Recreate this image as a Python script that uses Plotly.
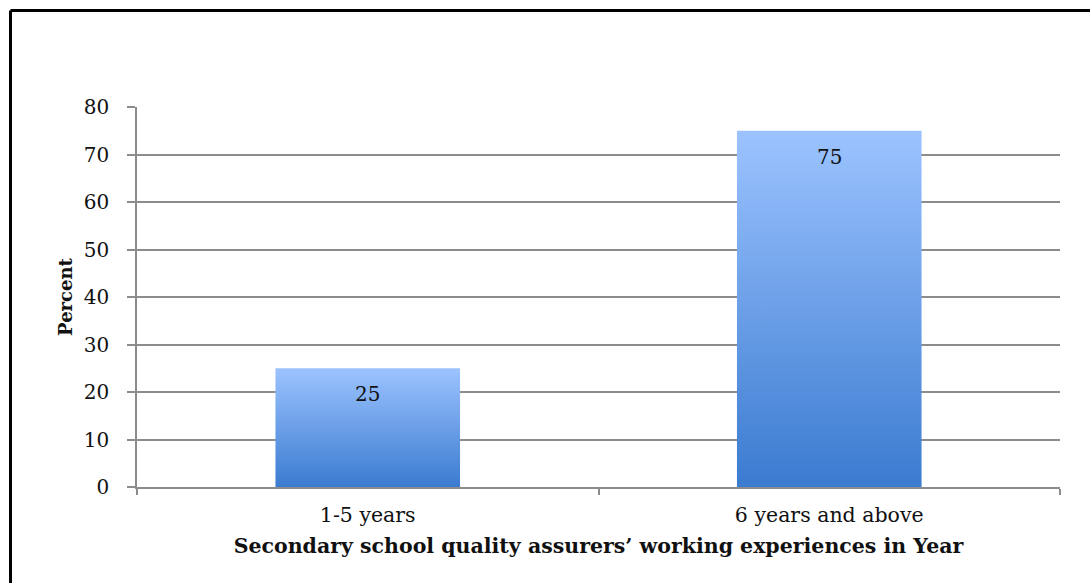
import plotly.graph_objects as go

categories = ["1-5 years", "6 years and above"]
percent = [25, 75]
y_ticks = [0, 10, 20, 30, 40, 50, 60, 70, 80]

x_title = "Secondary school quality assurers’ working experiences in Year"
y_title = "Percent"

BAR_HALF = 0.2
FONT = "DejaVu Serif"
GRID = "#8c8c8c"

fig = go.Figure()

for i, (cat, v) in enumerate(zip(categories, percent)):
    xs = [i - BAR_HALF, i + BAR_HALF, i + BAR_HALF, i - BAR_HALF, i - BAR_HALF]
    ys = [0, 0, v, v, 0]
    fig.add_trace(go.Scatter(
        x=xs, y=ys, mode="lines", fill="toself",
        line=dict(width=0, color="rgba(0,0,0,0)"),
        fillgradient=dict(type="vertical",
                          colorscale=[[0, "#3b7bd0"], [1, "#9cc3ff"]]),
        hoverinfo="skip", showlegend=False, name=cat,
    ))
    fig.add_annotation(x=i, y=v, text=str(v), showarrow=False,
                       yanchor="top", yshift=-12,
                       font=dict(family=FONT, size=20, color="#111"))

pw, ph = 923, 380
l, t = 137, 107
fx = (10.5 - l) / pw
fy = 1 + (t - 10.5) / ph
fig.add_shape(type="line", xref="paper", yref="paper", x0=fx, x1=fx, y0=fy, y1=-0.5,
              line=dict(color="black", width=3))
fig.add_shape(type="line", xref="paper", yref="paper", x0=fx, x1=1.2, y0=fy, y1=fy,
              line=dict(color="black", width=3))

fig.update_layout(
    width=1090, height=583,
    margin=dict(l=137, r=30, t=107, b=96),
    paper_bgcolor="white", plot_bgcolor="white",
    font=dict(family=FONT, color="#111"),
    xaxis=dict(
        range=[-0.5, 1.5], tickvals=[0, 1], ticktext=categories,
        ticks="", showgrid=False, zeroline=False,
        showline=True, linecolor=GRID, linewidth=1.5,
        tickfont=dict(family=FONT, size=20.5, color="#111"),
        ticklabelstandoff=9,
        minor=dict(tickvals=[-0.5, 0.5, 1.5], ticks="outside", ticklen=6,
                   tickcolor=GRID, tickwidth=1.5, showgrid=False),
        title=dict(text=f"<b>{x_title}</b>", standoff=12,
                   font=dict(family=FONT, size=20.5, color="#111")),
        fixedrange=True,
    ),
    yaxis=dict(
        range=[0, 80], tickvals=y_ticks, ticks="outside", ticklen=8,
        tickcolor=GRID, tickwidth=1.5,
        showgrid=True, gridcolor=GRID, gridwidth=1.5,
        zeroline=False, showline=True, linecolor=GRID, linewidth=1.5,
        tickfont=dict(family=FONT, size=20, color="#111"),
        ticklabelstandoff=14,
        title=dict(text=f"<b>{y_title}</b>", standoff=6,
                   font=dict(family=FONT, size=18, color="#111")),
        fixedrange=True,
    ),
)

fig.write_html("out.html")
